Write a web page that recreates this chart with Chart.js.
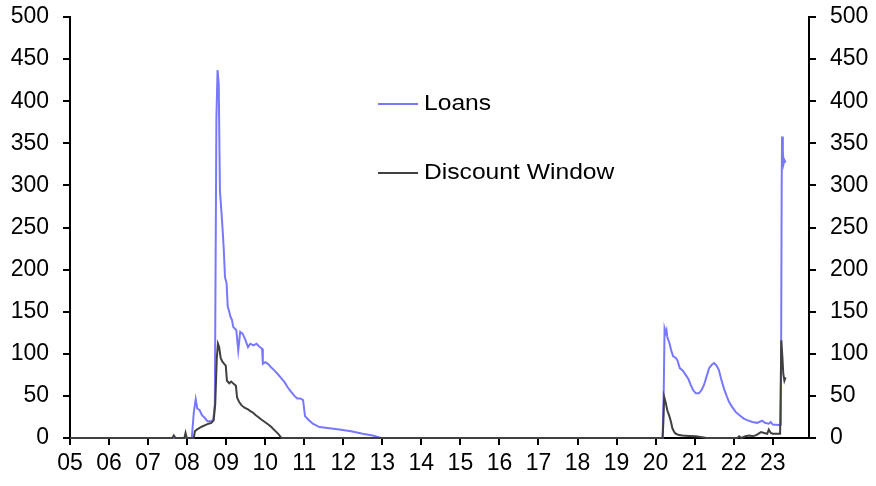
<!DOCTYPE html>
<html>
<head>
<meta charset="utf-8">
<script src="https://cdn.jsdelivr.net/npm/chart.js@4/dist/chart.umd.min.js"></script>
<style>
  html, body { margin: 0; padding: 0; background: #fff; }
  #wrap { width: 876px; height: 486px; }
</style>
</head>
<body>
<div id="wrap"><canvas id="c" width="876" height="486"></canvas></div>
<script>
// ---- DATA (decimal years, $bn) ----
const seriesNames = ['Loans', 'Discount Window'];

const loansYears = [2005.0, 2008.12, 2008.17, 2008.22, 2008.26, 2008.32, 2008.38, 2008.45, 2008.52, 2008.62, 2008.67, 2008.71,
  2008.75, 2008.78, 2008.81, 2008.84, 2008.88, 2008.91, 2008.94, 2008.97, 2009.01, 2009.04, 2009.08, 2009.11, 2009.15, 2009.18,
  2009.22, 2009.26, 2009.31, 2009.36, 2009.42, 2009.48, 2009.56, 2009.62, 2009.70, 2009.78, 2009.86, 2009.92, 2009.94, 2010.0,
  2010.07, 2010.15, 2010.24, 2010.32, 2010.41, 2010.50, 2010.58, 2010.66, 2010.75, 2010.82, 2010.90, 2010.97, 2011.02, 2011.1,
  2011.22, 2011.39, 2011.6, 2011.9, 2012.2, 2012.5, 2012.75, 2012.97, 2020.18, 2020.21, 2020.23, 2020.26, 2020.28, 2020.30,
  2020.36, 2020.40, 2020.45, 2020.52, 2020.56, 2020.62, 2020.70, 2020.77, 2020.84, 2020.90, 2020.96, 2021.03, 2021.11, 2021.18,
  2021.24, 2021.30, 2021.37, 2021.44, 2021.50, 2021.56, 2021.62, 2021.68, 2021.75, 2021.82, 2021.88, 2021.96, 2022.05, 2022.15,
  2022.26, 2022.36, 2022.48, 2022.60, 2022.73, 2022.80, 2022.90, 2022.95, 2023.0, 2023.16, 2023.21, 2023.23, 2023.24, 2023.26,
  2023.28, 2023.30, 2023.33];
const loansValues = [0, 0, 30, 46, 35, 33, 27, 24, 20, 20, 22, 40,
  380, 437, 420, 294, 268, 247, 223, 191, 184, 156, 150, 144, 140, 132,
  130, 128, 104, 126, 124, 118, 108, 112, 110, 112, 108, 106, 88, 90,
  88, 84, 80, 76, 71, 66, 60, 55, 50, 47, 47, 45, 26, 22,
  17, 13, 12, 10, 8, 5, 3, 0, 0, 60, 130, 125, 128, 120,
  112, 104, 97, 95, 92, 83, 80, 75, 70, 63, 57, 53, 53, 57,
  63, 72, 83, 87, 89, 86, 81, 70, 59, 50, 43, 37, 31, 27,
  23, 21, 19, 18, 20.5, 18, 17, 19, 16, 15.5, 16, 300, 358, 340,
  326, 330, 327];

const dwYears = [2005.0, 2007.62, 2007.66, 2007.70, 2007.93, 2007.96, 2007.99, 2008.17, 2008.20, 2008.25, 2008.32, 2008.40,
  2008.45, 2008.55, 2008.62, 2008.68, 2008.72, 2008.76, 2008.79, 2008.82, 2008.86, 2008.90, 2008.95, 2008.99, 2009.02, 2009.08,
  2009.13, 2009.20, 2009.25, 2009.28, 2009.33, 2009.39, 2009.47, 2009.56, 2009.62, 2009.69, 2009.76, 2009.82, 2009.90, 2009.99,
  2010.08, 2010.16, 2010.22, 2010.29, 2010.35, 2010.39, 2010.42, 2020.18, 2020.20, 2020.22, 2020.26, 2020.30, 2020.33, 2020.36,
  2020.40, 2020.43, 2020.48, 2020.52, 2020.60, 2020.69, 2020.85, 2021.03, 2021.19, 2021.30, 2022.10, 2022.14, 2022.2, 2022.3,
  2022.4, 2022.5, 2022.6, 2022.7, 2022.78, 2022.86, 2022.9, 2022.95, 2023.0, 2023.1, 2023.19, 2023.22, 2023.25, 2023.27,
  2023.30, 2023.33];
const dwValues = [0, 0, 3, 0, 0, 6, 0, 0, 8, 10, 12, 14,
  15, 17, 18, 21, 40, 95, 112, 108, 95, 91, 88, 86, 68, 65,
  67, 64, 62, 48, 43, 39, 36, 34, 32, 30, 27, 25, 22, 19,
  16, 13, 10, 7, 4, 1.5, 0, 0, 20, 49, 42, 33, 29, 25,
  18, 11.5, 7, 5, 3.5, 3, 2.5, 2, 1, 0, 0, 2, 0, 2,
  3, 2, 4, 7, 6, 5, 10, 6, 5, 5, 5, 116, 95, 77,
  68, 72];

const yearTicks = [2005, 2006, 2007, 2008, 2009, 2010, 2011, 2012, 2013, 2014, 2015, 2016, 2017, 2018, 2019, 2020, 2021, 2022, 2023];
const yearLabels = ['05', '06', '07', '08', '09', '10', '11', '12', '13', '14', '15', '16', '17', '18', '19', '20', '21', '22', '23'];
const xMin = 2005, xMax = 2023.93;
const yMin = 0, yMax = 500, yStep = 50;

// ---- CHART ----
const FONT = "'Liberation Sans', Arial, sans-serif";
const toPoints = (xs, ys) => xs.map((x, i) => ({ x: x, y: ys[i] }));
const colors = ['#7878ff', '#404040'];

const legendPlugin = {
  id: 'innerLegend',
  afterDatasetsDraw(chart) {
    const ctx = chart.ctx;
    const items = [
      { ds: chart.data.datasets[1], y: 104 },
      { ds: chart.data.datasets[0], y: 173 }
    ];
    ctx.save();
    items.forEach(it => {
      ctx.strokeStyle = it.ds.borderColor;
      ctx.lineWidth = 2;
      ctx.beginPath();
      ctx.moveTo(378, it.y);
      ctx.lineTo(418, it.y);
      ctx.stroke();
      ctx.save();
      ctx.fillStyle = '#000';
      ctx.font = '22px ' + FONT;
      ctx.textBaseline = 'middle';
      ctx.textAlign = 'left';
      ctx.translate(424, it.y);
      ctx.scale(1.12, 1);
      ctx.fillText(it.ds.label, 0, 0);
      ctx.restore();
    });
    ctx.restore();
  }
};

const fitY = (w) => (a) => { a.width = w; a.paddingTop = 6; a.paddingBottom = 6; };

const yAxisCommon = {
  type: 'linear',
  min: yMin, max: yMax,
  ticks: { stepSize: yStep, color: '#000', font: { family: FONT, size: 23 }, padding: 14 },
  grid: { drawOnChartArea: false, drawTicks: true, tickLength: 7, color: '#000', lineWidth: 2 },
  border: { display: true, color: '#000', width: 2 }
};

new Chart(document.getElementById('c'), {
  type: 'line',
  data: {
    datasets: [
      { label: seriesNames[1], data: toPoints(dwYears, dwValues), borderColor: colors[1], borderWidth: 2, pointRadius: 0, tension: 0, clip: 4 },
      { label: seriesNames[0], data: toPoints(loansYears, loansValues), borderColor: colors[0], borderWidth: 2, pointRadius: 0, tension: 0, clip: 4 }
    ]
  },
  options: {
    responsive: false,
    animation: false,
    events: [],
    layout: { padding: { top: 17, left: 0, right: 0, bottom: 0 } },
    plugins: { legend: { display: false }, tooltip: { enabled: false } },
    scales: {
      x: {
        type: 'linear',
        min: xMin, max: xMax,
        afterBuildTicks: (axis) => { axis.ticks = yearTicks.map(v => ({ value: v })); },
        afterFit: (axis) => { axis.height = 48; axis.paddingLeft = 0; axis.paddingRight = 0; },
        ticks: {
          color: '#000', font: { family: FONT, size: 23 }, padding: 5, maxRotation: 0, autoSkip: false,
          callback: (v) => { const i = yearTicks.indexOf(v); return i >= 0 ? yearLabels[i] : ''; }
        },
        grid: { drawOnChartArea: false, drawTicks: true, tickLength: 7, color: '#000', lineWidth: 2 },
        border: { display: true, color: '#000', width: 2 }
      },
      y: Object.assign({}, yAxisCommon, { position: 'left', afterFit: fitY(70) }),
      y2: Object.assign({}, yAxisCommon, { position: 'right', afterFit: fitY(67) })
    }
  },
  plugins: [legendPlugin]
});
</script>
</body>
</html>
